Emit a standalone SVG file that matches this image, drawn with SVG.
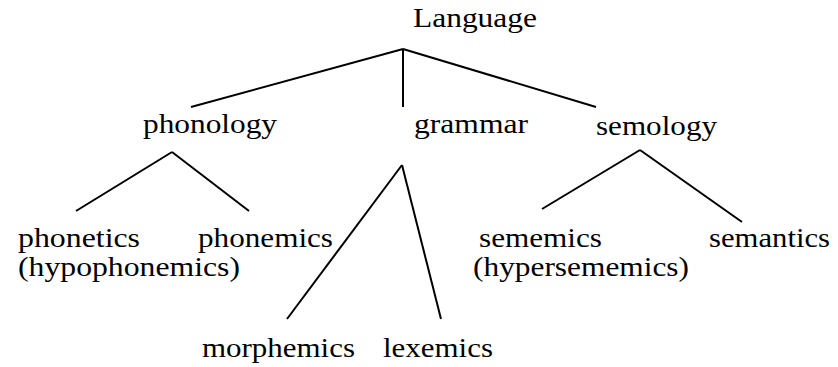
<svg xmlns="http://www.w3.org/2000/svg" width="838" height="367" viewBox="0 0 838 367">
<style>
text{font-size:28px;fill:#000}
.c line{stroke:#000;stroke-width:2;stroke-linecap:butt}
</style>
<rect width="838" height="367" fill="#fff"/>
<g class="c" id="connectors">
<line x1="403" y1="49" x2="191" y2="107"/>
<line x1="403" y1="49" x2="403" y2="107"/>
<line x1="403" y1="49" x2="596" y2="107"/>
<line x1="172" y1="152" x2="76" y2="211"/>
<line x1="172" y1="152" x2="249" y2="211"/>
<line x1="402" y1="165" x2="287" y2="319"/>
<line x1="402" y1="165" x2="441" y2="319"/>
<line x1="640" y1="150" x2="542" y2="209"/>
<line x1="640" y1="150" x2="742" y2="222"/>
</g>
<g font-family="Liberation Serif, serif">
<g id="language"><text x="413" y="27" textLength="124" lengthAdjust="spacingAndGlyphs">Language</text></g>
<g id="phonology"><text x="143" y="133" textLength="134" lengthAdjust="spacingAndGlyphs">phonology</text></g>
<g id="grammar"><text x="414" y="133" textLength="114" lengthAdjust="spacingAndGlyphs">grammar</text></g>
<g id="semology"><text x="596" y="135" textLength="121" lengthAdjust="spacingAndGlyphs">semology</text></g>
<g id="phonetics"><text x="18" y="247" textLength="122" lengthAdjust="spacingAndGlyphs">phonetics</text><text x="18" y="276" textLength="222" lengthAdjust="spacingAndGlyphs">(hypophonemics)</text></g>
<g id="phonemics"><text x="198" y="247" textLength="135" lengthAdjust="spacingAndGlyphs">phonemics</text></g>
<g id="sememics"><text x="479" y="247" textLength="123" lengthAdjust="spacingAndGlyphs">sememics</text><text x="473" y="276" textLength="216" lengthAdjust="spacingAndGlyphs">(hypersememics)</text></g>
<g id="semantics"><text x="709" y="247" textLength="121" lengthAdjust="spacingAndGlyphs">semantics</text></g>
<g id="morphemics"><text x="202" y="357" textLength="153" lengthAdjust="spacingAndGlyphs">morphemics</text></g>
<g id="lexemics"><text x="383" y="357" textLength="110" lengthAdjust="spacingAndGlyphs">lexemics</text></g>
</g>
</svg>
